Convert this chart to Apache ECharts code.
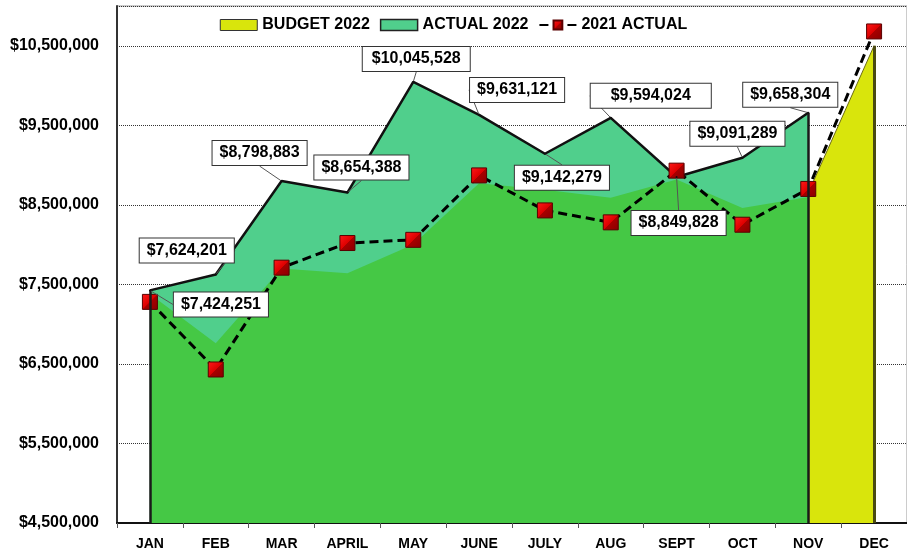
<!DOCTYPE html>
<html>
<head>
<meta charset="utf-8">
<script src="https://cdn.jsdelivr.net/npm/echarts@6/dist/echarts.min.js"></script>
<style>
  html, body { margin: 0; padding: 0; background: #fff; }
  #main { width: 907px; height: 553px; }
</style>
</head>
<body>
<div id="main"></div>
<script>
// 月份
var months = ['JAN', 'FEB', 'MAR', 'APRIL', 'MAY', 'JUNE', 'JULY', 'AUG', 'SEPT', 'OCT', 'NOV', 'DEC'];
// 2022 实际 (青绿色面积)
var actual2022 = [7424251, 7624201, 8798883, 8654388, 10045528, 9631121, 9142279, 9594024, 8849828, 9091289, 9658304, null];
// 绿色填充 (前景面积)
var greenFill = [7380000, 6760000, 7700000, 7640000, 8000000, 8770000, 8690000, 8590000, 8820000, 8460000, 8600000, null];
// 2022 预算 (黄色, 只有最后一段)
var budget2022 = [null, null, null, null, null, null, null, null, null, null, 8650000, 10500000];
// 2021 实际 (虚线 + 红色方块)
var actual2021 = [7280000, 6430000, 7710000, 8020000, 8060000, 8870000, 8430000, 8280000, 8930000, 8250000, 8700000, 10680000];
// 数据标签偏移
var labelOffsets = [[71, 14], [-29, -24], [-22, -28], [14, -25], [3, -23], [38, -25], [17, 24], [40, -22], [2, 46], [-5, -24], [-18, -18]];

var font = 'Liberation Sans, Arial, sans-serif';
function money(v) { return '$' + Number(v).toLocaleString('en-US'); }

var myChart = echarts.init(document.getElementById('main'));

var option = {
    animation: false,
    grid: {
        left: 117, top: 6, width: 795, height: 517,
        show: true, borderColor: '#999', borderWidth: 1, backgroundColor: 'transparent'
    },
    legend: {
        top: 12,
        left: 'center',
        itemWidth: 37,
        itemHeight: 11,
        itemGap: 10,
        textStyle: { fontFamily: font, fontWeight: 'bold', fontSize: 16, color: '#000' },
        data: [
            { name: 'BUDGET 2022', icon: 'rect', itemStyle: { color: '#D9E50C', borderColor: '#333', borderWidth: 1 } },
            { name: 'ACTUAL 2022', icon: 'rect', itemStyle: { color: '#50CF8C', borderColor: '#222', borderWidth: 1.5 } },
            { name: '2021 ACTUAL' }
        ]
    },
    xAxis: {
        type: 'category',
        data: months,
        boundaryGap: true,
        axisLine: { lineStyle: { color: '#111', width: 2 } },
        axisTick: { show: true, length: 5, lineStyle: { color: '#555' } },
        axisLabel: { margin: 14, fontFamily: font, fontWeight: 'bold', fontSize: 14, color: '#000' }
    },
    yAxis: {
        type: 'value',
        min: 4500000,
        max: 11000000,
        interval: 1000000,
        axisLine: { show: true, lineStyle: { color: '#333', width: 2 } },
        axisTick: { show: false },
        splitLine: { show: true, lineStyle: { color: '#333', type: 'dotted', width: 1 } },
        axisLabel: {
            margin: 18, showMaxLabel: false,
            fontFamily: font, fontWeight: 'bold', fontSize: 16, color: '#000',
            formatter: money
        }
    },
    series: [
        {
            name: 'BUDGET 2022',
            type: 'line',
            z: 1,
            data: budget2022,
            symbol: 'none',
            lineStyle: { color: '#6b6b10', width: 1 },
            areaStyle: { color: '#D9E50C', opacity: 1 },
            itemStyle: { color: '#D9E50C' },
            markLine: {
                silent: true, symbol: 'none', label: { show: false },
                lineStyle: { color: '#4a4a12', width: 3, type: 'solid' },
                data: [[{ coord: ['DEC', 4500000] }, { coord: ['DEC', budget2022[11]] }]]
            }
        },
        {
            name: 'ACTUAL 2022',
            type: 'line',
            z: 2,
            data: actual2022,
            symbol: 'none',
            lineStyle: { color: '#111', width: 2.5 },
            areaStyle: { color: '#50CF8C', opacity: 1 },
            itemStyle: { color: '#50CF8C' }
        },
        {
            name: 'fill',
            type: 'line',
            z: 3,
            data: greenFill,
            symbol: 'none',
            lineStyle: { width: 0 },
            areaStyle: { color: '#45C845', opacity: 1 },
            itemStyle: { color: '#45C845' },
            markLine: {
                silent: true, symbol: 'none', label: { show: false },
                lineStyle: { color: '#1a1a1a', width: 2.5, type: 'solid' },
                data: [
                    [{ coord: ['JAN', 4500000] }, { coord: ['JAN', actual2022[0]] }],
                    [{ coord: ['NOV', 4500000] }, { coord: ['NOV', actual2022[10]] }]
                ]
            }
        },
        {
            name: '2021 ACTUAL',
            type: 'line',
            z: 4,
            data: actual2021,
            symbol: 'rect',
            symbolSize: 15,
            lineStyle: { color: '#000', width: 3, type: [9, 5] },
            itemStyle: {
                color: new echarts.graphic.LinearGradient(0, 0, 1, 1, [
                    { offset: 0, color: '#ff1a1a' },
                    { offset: 0.5, color: '#dd0000' },
                    { offset: 0.51, color: '#a80000' },
                    { offset: 1, color: '#880000' }
                ]),
                borderColor: '#5a0000',
                borderWidth: 1
            }
        },
        {
            name: 'labels',
            type: 'line',
            z: 5,
            data: actual2022.map(function (v, i) {
                if (i === 7) return { value: v, label: { padding: [4, 20, 4, 20] } };
                if (i === 4) return { value: v, label: { padding: [4, 9, 4, 9] } };
                return v;
            }),
            symbol: 'circle',
            symbolSize: 2,
            itemStyle: { color: '#111' },
            lineStyle: { opacity: 0 },
            label: {
                show: true,
                position: 'inside',
                formatter: function (p) { return money(p.value); },
                fontFamily: font, fontWeight: 'bold', fontSize: 16, color: '#000',
                backgroundColor: '#fff',
                borderColor: '#333',
                borderWidth: 1,
                padding: [4, 7, 4, 7]
            },
            labelLine: { show: true, lineStyle: { color: '#555', width: 1 } },
            labelLayout: function (p) {
                var o = labelOffsets[p.dataIndex] || [0, 0];
                return { dx: o[0], dy: o[1] };
            }
        }
    ]
};

myChart.setOption(option);
</script>
</body>
</html>
